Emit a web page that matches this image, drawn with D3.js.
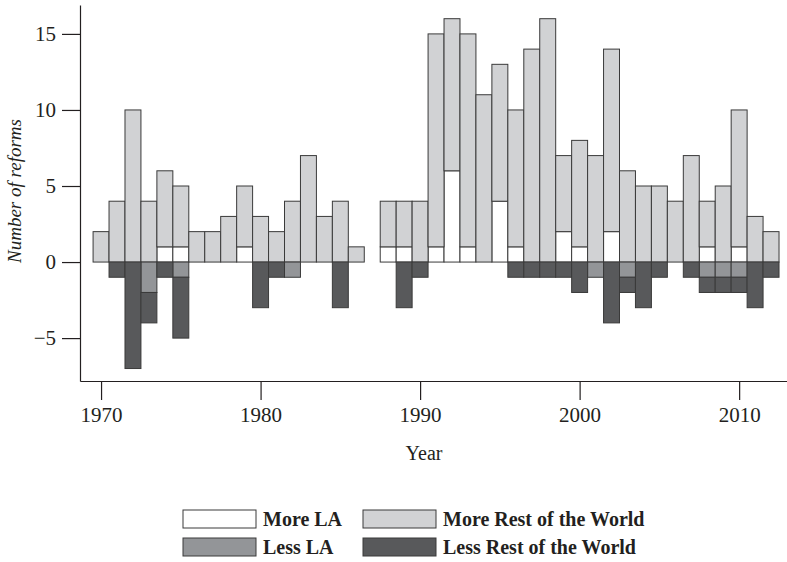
<!DOCTYPE html>
<html>
<head>
<meta charset="utf-8">
<script src="https://cdn.jsdelivr.net/npm/d3@7"></script>
<style>
  body { margin: 0; background: #fff; }
  text { font-family: "Liberation Serif", "Times New Roman", serif; fill: #231f20; }
</style>
</head>
<body>
<div id="chart"></div>
<script>
// years 1970-2012 (1987 has no reforms)
const years = d3.range(1970, 2013);
const moreLA  = [0,0,0,0,1,1,0,0,0,1, 0,0,0,0,0,0,0,0,1,1, 0,1,6,1,0,4,1,0,0,2, 1,0,2,0,0,0,0,0,1,0, 1,0,0];
const moreROW = [2,4,10,4,5,4,2,2,3,4, 3,2,4,7,3,4,1,0,3,3, 4,14,10,14,11,9,9,14,16,5, 7,7,12,6,5,5,4,7,3,5, 9,3,2];
const lessLA  = [0,0,0,2,0,1,0,0,0,0, 0,0,1,0,0,0,0,0,0,0, 0,0,0,0,0,0,0,0,0,0, 0,1,0,1,0,0,0,0,1,1, 1,0,0];
const lessROW = [0,1,7,2,1,4,0,0,0,0, 3,1,0,0,0,3,0,0,0,3, 1,0,0,0,0,0,1,1,1,1, 2,0,4,1,3,1,0,1,1,1, 1,3,1];
const yTicks = [-5, 0, 5, 10, 15];
const xTicks = [1970, 1980, 1990, 2000, 2010];

const keys = ["moreLA", "moreROW", "lessLA", "lessROW"];
const labels = {moreLA: "More LA", moreROW: "More Rest of the World", lessLA: "Less LA", lessROW: "Less Rest of the World"};
const colors = {moreLA: "#ffffff", moreROW: "#d1d2d4", lessLA: "#939598", lessROW: "#58595b"};

const table = years.map((yr, i) => ({
  year: yr,
  moreLA: moreLA[i],
  moreROW: moreROW[i],
  lessLA: -lessLA[i],
  lessROW: -lessROW[i]
}));

const width = 787, height = 562;
const svg = d3.select("#chart").append("svg")
  .attr("width", width)
  .attr("height", height);

const x = d3.scaleLinear().domain([1968.68, 2013.0]).range([80, 787]);
const y = d3.scaleLinear().domain([-7.82, 16.9]).range([381, 5]);

const series = d3.stack().keys(keys).offset(d3.stackOffsetDiverging)(table);

svg.append("g").selectAll("g")
  .data(series)
  .enter().append("g")
  .attr("fill", d => colors[d.key])
  .selectAll("rect")
  .data(d => d.filter(p => p[1] !== p[0]))
  .enter().append("rect")
  .attr("x", d => x(d.data.year - 0.5))
  .attr("width", d => x(d.data.year + 0.5) - x(d.data.year - 0.5))
  .attr("y", d => y(Math.max(d[0], d[1])))
  .attr("height", d => Math.abs(y(d[0]) - y(d[1])))
  .attr("stroke", "#3a3a3a")
  .attr("stroke-width", 1);

// axes
const yAxis = svg.append("g")
  .attr("transform", "translate(80,0)")
  .call(d3.axisLeft(y).tickValues(yTicks).tickSize(18).tickSizeOuter(0).tickPadding(6));

const xAxis = svg.append("g")
  .attr("transform", "translate(0,381)")
  .call(d3.axisBottom(x).tickValues(xTicks).tickFormat(d3.format("d")).tickSize(19).tickSizeOuter(0).tickPadding(7));

svg.selectAll(".domain, .tick line").attr("stroke", "#231f20").attr("stroke-width", 1.2);
svg.selectAll(".tick text").attr("font-family", null).style("font-size", "21px").attr("fill", "#231f20");

svg.append("text")
  .attr("x", 424).attr("y", 460)
  .attr("text-anchor", "middle")
  .style("font-size", "20px")
  .text("Year");

svg.append("text")
  .attr("transform", "translate(21,191) rotate(-90)")
  .attr("text-anchor", "middle")
  .style("font-size", "19px")
  .style("font-style", "italic")
  .text("Number of reforms");

// legend
const legendPos = [
  {key: "moreLA", x: 183, y: 510},
  {key: "moreROW", x: 363, y: 510},
  {key: "lessLA", x: 183, y: 538},
  {key: "lessROW", x: 363, y: 538}
];
const legend = svg.append("g").selectAll("g")
  .data(legendPos)
  .enter().append("g")
  .attr("transform", d => `translate(${d.x},${d.y})`);

legend.append("rect")
  .attr("width", 73)
  .attr("height", 18)
  .attr("fill", d => colors[d.key])
  .attr("stroke", "#3a3a3a")
  .attr("stroke-width", 1);

legend.append("text")
  .attr("x", 80)
  .attr("y", 16)
  .style("font-size", "20px")
  .style("font-weight", "bold")
  .text(d => labels[d.key]);
</script>
</body>
</html>
